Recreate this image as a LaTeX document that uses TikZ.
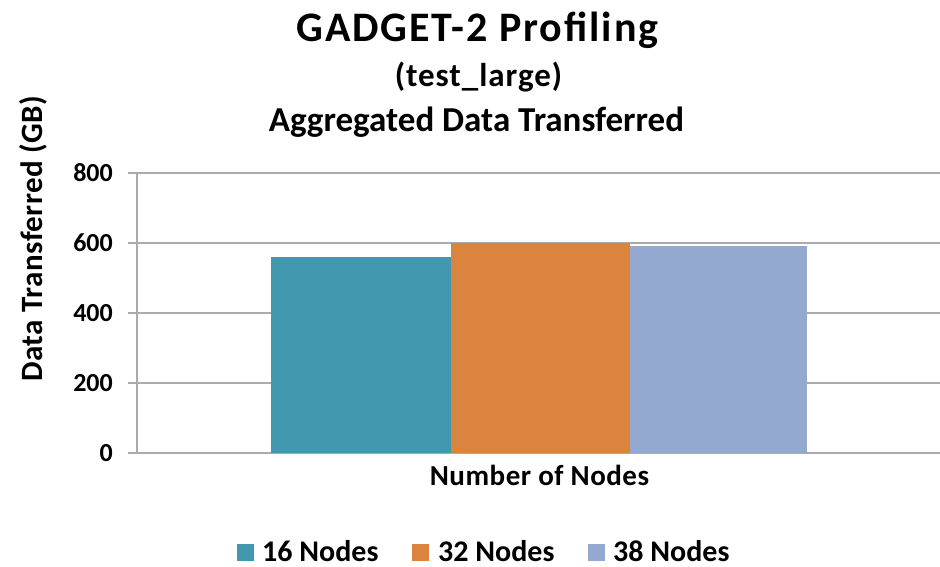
\documentclass[tikz,border=0pt]{standalone}
\usepackage{fontspec}
\setmainfont{Carlito}
\definecolor{serA}{HTML}{4198AF}
\definecolor{serB}{HTML}{DB843D}
\definecolor{serC}{HTML}{93A9CF}
\definecolor{gridgray}{HTML}{ABABAB}
\begin{document}
\begin{tikzpicture}[x=1pt,y=-1pt,
  gridline/.style={draw=gridgray,line width=1.4pt},
  ticklabel/.style={anchor=east,inner sep=0pt,font=\bfseries\fontsize{26}{28}\selectfont},
  titletext/.style={anchor=base,inner sep=0pt},
  legtext/.style={anchor=base west,inner sep=0pt,font=\bfseries\fontsize{30}{32}\selectfont}]
\useasboundingbox[fill=white] (0,0) rectangle (940,567);

% gridlines and value axis (0 at y=453, 200 units = 70)
\foreach \v/\yy in {0/453,200/383,400/313,600/243,800/173}{
  \draw[gridline] (128,\yy) -- (940,\yy);
  \node[ticklabel] (tick\v) at (113,\yy) {\v};
}
\draw[gridline] (137,173) -- (137,453);

% bars
\fill[serA] (271,453) rectangle (450.5,257);
\fill[serB] (450.5,453) rectangle (629.5,243);
\fill[serC] (629.5,453) rectangle (807,246);

% titles
\node[titletext,font=\bfseries\fontsize{42}{46}\selectfont\addfontfeatures{LetterSpace=4.6}] (title) at (477.5,42) {GADGET-2 Profiling};
\node[titletext,font=\bfseries\fontsize{33}{36}\selectfont\addfontfeatures{LetterSpace=3}] (subtitle) at (478.5,87) {(test\_large)};
\node[titletext,font=\bfseries\fontsize{35}{38}\selectfont] (subtitle2) at (476.5,131.5) {Aggregated Data Transferred};

% axis titles
\node[inner sep=0pt,rotate=90,font=\bfseries\fontsize{31}{34}\selectfont\addfontfeatures{LetterSpace=1.5}] (ytitle) at (33,238.5) {Data Transferred (GB)};
\node[titletext,font=\bfseries\fontsize{29}{32}\selectfont\addfontfeatures{LetterSpace=1.8}] (xtitle) at (539.5,485) {Number of Nodes};

% legend
\fill[serA] (237,544) rectangle (254,561);
\node[legtext] (legA) at (262,561) {16 Nodes};
\fill[serB] (412,544) rectangle (429,561);
\node[legtext] (legB) at (438,561) {32 Nodes};
\fill[serC] (588,544) rectangle (605,561);
\node[legtext] (legC) at (613,561) {38 Nodes};
\end{tikzpicture}
\end{document}
